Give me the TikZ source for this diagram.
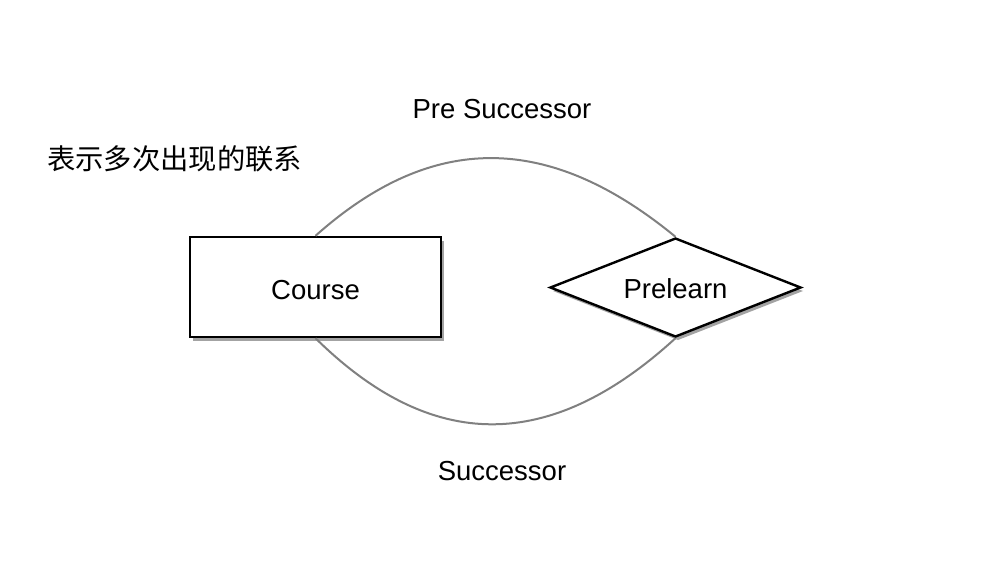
\documentclass[tikz,border=0pt]{standalone}
\usepackage{fontspec}
\setmainfont{Liberation Sans}
\newfontfamily\cjk{Noto Sans CJK SC}
\usetikzlibrary{shapes.geometric,shadows}
\begin{document}
\begin{tikzpicture}[x=1pt,y=-1pt,
  lbl/.style={font=\fontsize{27.5}{32}\selectfont, inner sep=0pt},
  entbox/.style={draw=black, line width=2.4pt, fill=white, minimum width=251pt, minimum height=100pt, inner sep=0pt,
    drop shadow={opacity=0.6, fill=black!60, shadow xshift=2.5pt, shadow yshift=-3.5pt}},
  relbox/.style={diamond, draw=black, line width=2.4pt, fill=white, aspect=2.5, minimum width=251pt, minimum height=99pt, inner sep=0pt,
    drop shadow={opacity=0.6, fill=black!60, shadow xshift=2.5pt, shadow yshift=-3.5pt}},
  link/.style={draw=black!50, line width=2pt}]
\useasboundingbox[fill=white] (0,0) rectangle (988,562);
\node[entbox] (course) at (315.5,287) {};
\node[lbl] (coursetxt) at (315.5,290) {Course};
\node[relbox] (prelearn) at (675.5,287.5) {};
\node[lbl] (prelearntxt) at (675.5,289) {Prelearn};
\draw[link] (course.north) .. controls (432,132) and (548,132) .. (prelearn.north);
\draw[link] (course.south) .. controls (432,453) and (550,453) .. (prelearn.south);
\node[lbl] (pre) at (502,109) {Pre Successor};
\node[lbl] (succ) at (502,471) {Successor};
\node[lbl, anchor=west, font=\fontsize{28.3}{32}\selectfont] (note) at (47,159) {\cjk 表示多次出现的联系};
\end{tikzpicture}
\end{document}
